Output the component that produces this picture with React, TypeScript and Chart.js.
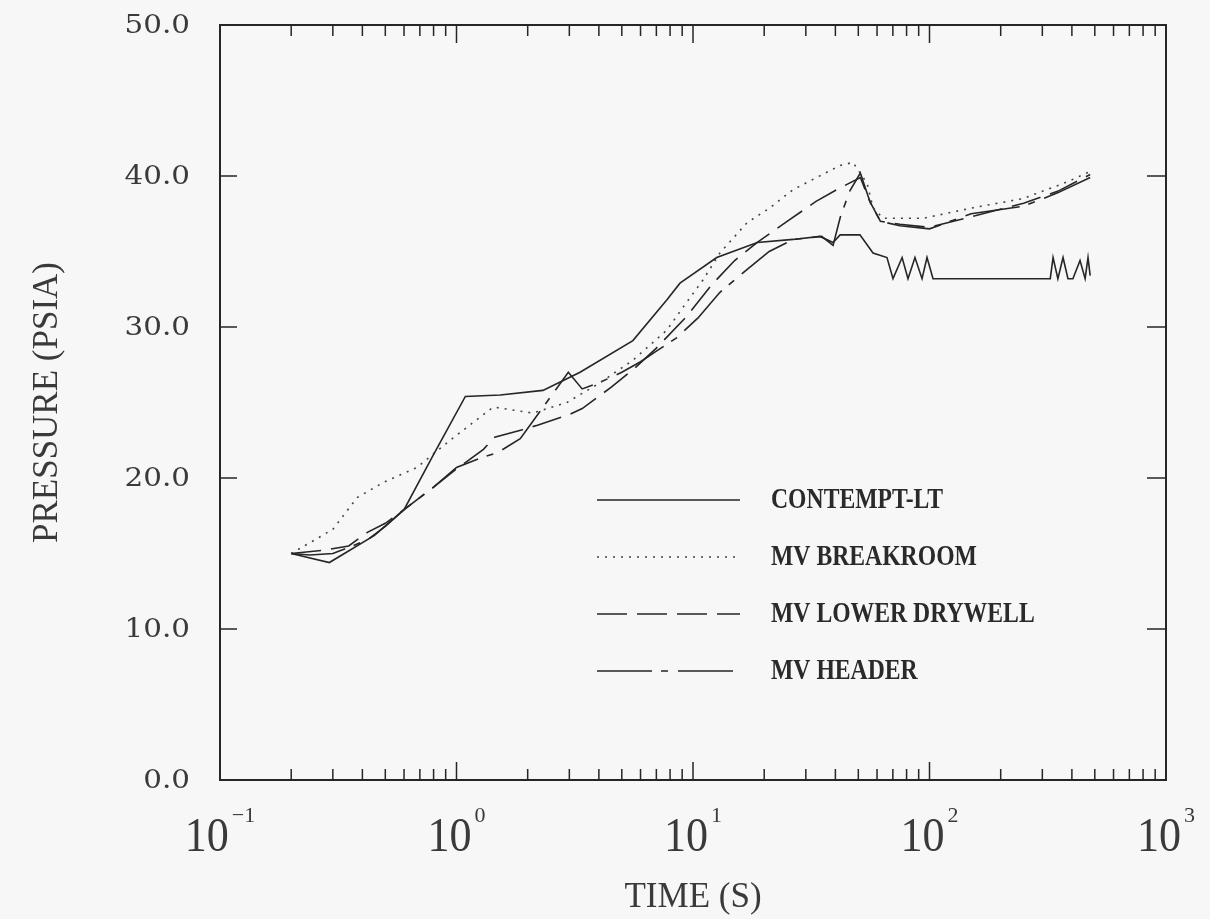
import React, { useEffect, useRef } from "react";
import { Chart, registerables } from "chart.js";

Chart.register(...registerables);

// ---- Data ----
const seriesLabels = ["CONTEMPT-LT", "MV BREAKROOM", "MV LOWER DRYWELL", "MV HEADER"];

const contemptTime = [0.2, 0.29, 0.45, 0.6, 0.79, 1.09, 1.53, 2.32, 3.33, 5.57, 7.76, 8.81, 12.6, 18.7, 26.5, 34.4, 39.1, 41.9, 50.8, 57.7, 66.1, 70.1, 76.6, 81.1, 86.8, 93, 97.6, 103.5, 125, 324, 333, 349, 367, 385, 404, 433, 455, 468, 478];
const contemptPressure = [15.0, 14.4, 16.2, 17.9, 21.4, 25.4, 25.5, 25.8, 27.0, 29.1, 31.8, 32.9, 34.6, 35.6, 35.8, 36.0, 35.6, 36.1, 36.1, 34.9, 34.6, 33.2, 34.6, 33.2, 34.6, 33.2, 34.6, 33.2, 33.2, 33.2, 34.6, 33.2, 34.6, 33.2, 33.2, 34.4, 33.2, 34.6, 33.4];

const breakroomTime = [0.2, 0.3, 0.38, 0.49, 0.68, 0.94, 1.43, 2.1, 2.93, 4.04, 5.57, 7.76, 9.07, 11.0, 13.0, 16.9, 21.2, 26.5, 41.9, 47.5, 54.5, 57.7, 63.6, 94, 153, 248, 381, 478];
const breakroomPressure = [15.0, 16.6, 18.7, 19.7, 20.7, 22.5, 24.7, 24.3, 25.0, 26.3, 27.8, 29.8, 31.3, 33.1, 34.9, 36.9, 37.9, 39.1, 40.7, 40.9, 39.5, 37.9, 37.2, 37.2, 37.9, 38.5, 39.6, 40.3];

const drywellTime = [0.2, 0.27, 0.35, 0.42, 0.5, 0.6, 0.8, 1.0, 1.3, 1.45, 1.9, 2.2, 3.0, 3.4, 4.5, 5.6, 7.0, 9.4, 12.0, 15.0, 18.7, 25, 33, 40.6, 51, 56, 62, 75, 100, 150, 250, 350, 478];
const drywellPressure = [15.0, 15.2, 15.5, 16.4, 17.0, 17.9, 19.4, 20.6, 21.9, 22.7, 23.2, 23.5, 24.2, 24.6, 26.0, 27.2, 28.6, 30.7, 32.8, 34.4, 35.6, 37.0, 38.3, 39.1, 39.9, 38.3, 37.0, 36.8, 36.6, 37.3, 38.2, 39.0, 40.1];

const headerTime = [0.2, 0.24, 0.3, 0.35, 0.42, 0.5, 0.6, 0.8, 1.0, 1.25, 1.5, 1.86, 2.97, 3.4, 4.0, 5.0, 6.0, 7.0, 8.55, 10.5, 13.0, 16.9, 21, 26.5, 35, 39.1, 42, 46, 51, 56, 62, 75, 100, 150, 250, 350, 478];
const headerPressure = [15.0, 14.9, 15.0, 15.4, 15.9, 16.8, 17.9, 19.4, 20.7, 21.3, 21.7, 22.6, 27.0, 25.9, 26.3, 27.0, 27.7, 28.4, 29.3, 30.6, 32.3, 33.8, 35.0, 35.8, 36.0, 35.4, 37.3, 39.0, 40.2, 38.3, 37.0, 36.7, 36.5, 37.5, 38.0, 38.9, 39.9];

const yTickValues = [0, 10, 20, 30, 40, 50];
const xTickExponents = [-1, 0, 1, 2, 3];
const xTitle = "TIME (S)";
const yTitle = "PRESSURE (PSIA)";

const toPoints = (t: number[], p: number[]) => t.map((x, i) => ({ x, y: p[i] }));

const INK = "#262626";
const TEXT = "#3a3a3a";
const BG = "#f7f7f7";

const decorPlugin = {
  id: "decor",
  beforeDraw(chart: any) {
    const { ctx, width, height } = chart;
    ctx.save();
    ctx.fillStyle = BG;
    ctx.fillRect(0, 0, width, height);
    ctx.restore();
  },
  afterDraw(chart: any) {
    const { ctx, chartArea } = chart;
    const { left, right, top, bottom } = chartArea;
    const xs = chart.scales.x;
    const ys = chart.scales.y;
    ctx.save();
    // frame
    ctx.strokeStyle = INK;
    ctx.lineWidth = 2;
    ctx.setLineDash([]);
    ctx.strokeRect(left, top, right - left, bottom - top);

    // x ticks (inward, top and bottom)
    ctx.lineWidth = 1.5;
    for (let e = -1; e < 3; e++) {
      for (let m = 1; m <= 9; m++) {
        const v = m * Math.pow(10, e);
        if (v <= 0.1) continue;
        const px = xs.getPixelForValue(v);
        const len = m === 1 ? 18 : 11;
        ctx.beginPath();
        ctx.moveTo(px, bottom);
        ctx.lineTo(px, bottom - len);
        ctx.moveTo(px, top);
        ctx.lineTo(px, top + len);
        ctx.stroke();
      }
    }
    // y ticks (inward, left and right)
    yTickValues.forEach((v) => {
      if (v === 0 || v === 50) return;
      const py = ys.getPixelForValue(v);
      ctx.beginPath();
      ctx.moveTo(left, py);
      ctx.lineTo(left + 17, py);
      ctx.moveTo(right, py);
      ctx.lineTo(right - 19, py);
      ctx.stroke();
    });

    // y tick labels
    ctx.fillStyle = TEXT;
    ctx.font = '26px "DejaVu Serif"';
    ctx.textBaseline = "middle";
    ctx.textAlign = "right";
    yTickValues.forEach((v) => {
      const py = ys.getPixelForValue(v);
      ctx.save();
      ctx.translate(190, py + 1);
      ctx.scale(1.13, 1);
      ctx.fillText(v.toFixed(1), 0, 0);
      ctx.restore();
    });

    // x tick labels: 10 with superscript exponent
    xTickExponents.forEach((e) => {
      const px = xs.getPixelForValue(Math.pow(10, e));
      const base = "10";
      const sup = String(e).replace("-", "\u2212");
      ctx.font = '49px "Liberation Serif"';
      const bw = ctx.measureText(base).width * 0.9;
      ctx.font = '22px "Liberation Serif"';
      const sw = ctx.measureText(sup).width;
      const total = bw + 3 + sw;
      const x0 = px - total / 2;
      ctx.textAlign = "left";
      ctx.textBaseline = "alphabetic";
      ctx.save();
      ctx.translate(x0, 851);
      ctx.scale(0.9, 1);
      ctx.font = '49px "Liberation Serif"';
      ctx.fillText(base, 0, 0);
      ctx.restore();
      ctx.font = '22px "Liberation Serif"';
      ctx.fillText(sup, x0 + bw + 3, 822);
    });

    // axis titles
    ctx.font = '35px "Liberation Serif"';
    ctx.textAlign = "center";
    ctx.textBaseline = "alphabetic";
    ctx.fillText(xTitle, (left + right) / 2, 907);
    ctx.save();
    ctx.translate(57, (top + bottom) / 2);
    ctx.rotate(-Math.PI / 2);
    ctx.fillText(yTitle, 0, 0);
    ctx.restore();

    // legend inside plot
    const rows = [500, 557, 614, 671];
    ctx.font = 'bold 29px "Liberation Serif"';
    const sx = 172 / ctx.measureText(seriesLabels[0]).width;
    chart.data.datasets.forEach((ds: any, i: number) => {
      const y = rows[i];
      ctx.strokeStyle = ds.borderColor;
      ctx.lineWidth = ds.borderWidth;
      ctx.setLineDash(ds.borderDash || []);
      ctx.beginPath();
      ctx.moveTo(597, y);
      ctx.lineTo(740, y);
      ctx.stroke();
      ctx.setLineDash([]);
      ctx.save();
      ctx.translate(771, y + 1);
      ctx.scale(sx, 1);
      ctx.fillStyle = "#2a2a2a";
      ctx.textAlign = "left";
      ctx.textBaseline = "middle";
      ctx.fillText(ds.label, 0, 0);
      ctx.restore();
    });
    ctx.restore();
  },
};

export default function App() {
  const ref = useRef<HTMLCanvasElement | null>(null);
  useEffect(() => {
    if (!ref.current) return;
    const chart = new Chart(ref.current, {
      type: "line",
      data: {
        datasets: [
          { label: seriesLabels[0], data: toPoints(contemptTime, contemptPressure), borderColor: INK, borderWidth: 1.6, borderDash: [] },
          { label: seriesLabels[1], data: toPoints(breakroomTime, breakroomPressure), borderColor: "#444", borderWidth: 1.6, borderDash: [2, 6] },
          { label: seriesLabels[2], data: toPoints(drywellTime, drywellPressure), borderColor: INK, borderWidth: 1.6, borderDash: [30, 10] },
          { label: seriesLabels[3], data: toPoints(headerTime, headerPressure), borderColor: INK, borderWidth: 1.6, borderDash: [55, 9, 7, 10] },
        ] as any,
      },
      options: {
        animation: false,
        responsive: false,
        maintainAspectRatio: false,
        parsing: true,
        layout: { padding: { left: 220, top: 25, right: 44, bottom: 139 } },
        scales: {
          x: { type: "logarithmic", min: 0.1, max: 1000, display: false },
          y: { type: "linear", min: 0, max: 50, display: false },
        },
        elements: { point: { radius: 0 }, line: { tension: 0, fill: false } },
        plugins: { legend: { display: false }, tooltip: { enabled: false } },
      } as any,
      plugins: [decorPlugin],
    });
    return () => chart.destroy();
  }, []);
  return (
    <div style={{ position: "fixed", left: 0, top: 0, width: 1210, height: 919, background: BG }}>
      <canvas ref={ref} width={1210} height={919} style={{ width: 1210, height: 919, display: "block" }} />
    </div>
  );
}
